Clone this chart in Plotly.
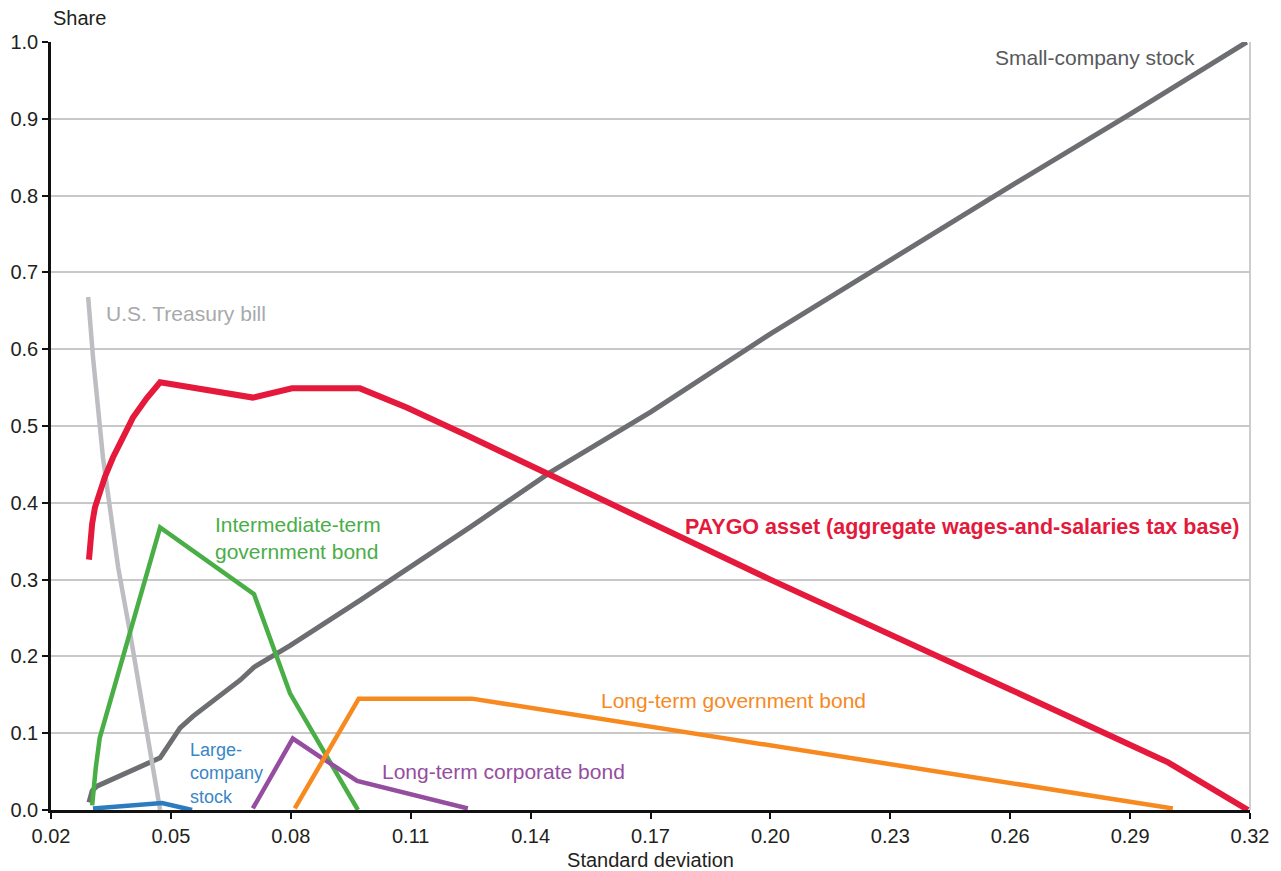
import plotly.graph_objects as go

# ---- data ----
tbill_x = [0.0293, 0.0300, 0.0305, 0.0330, 0.0368, 0.0398, 0.0473]
tbill_y = [0.668, 0.620, 0.590, 0.459, 0.316, 0.230, 0.000]

paygo_x = [0.0295, 0.02976, 0.0303, 0.0310, 0.0323, 0.03351, 0.0355, 0.03809, 0.0405, 0.04394, 0.0473,
           0.0705, 0.0803, 0.0973, 0.109, 0.124, 0.200, 0.260, 0.2995, 0.3195]
paygo_y = [0.326, 0.347, 0.373, 0.394, 0.416, 0.434, 0.459, 0.486, 0.511, 0.536, 0.557,
           0.537, 0.549, 0.549, 0.524, 0.488, 0.300, 0.157, 0.062, 0.000]

inter_x = [0.0303, 0.0312, 0.0322, 0.0473, 0.0708, 0.0798, 0.0968]
inter_y = [0.006, 0.055, 0.094, 0.368, 0.281, 0.152, 0.000]

small_x = [0.0295, 0.0303, 0.0315, 0.0473, 0.0523, 0.0555, 0.0673, 0.0708, 0.0798, 0.0973, 0.1248, 0.145, 0.170, 0.200, 0.230, 0.260, 0.290, 0.3192]
small_y = [0.010, 0.025, 0.031, 0.068, 0.107, 0.122, 0.169, 0.186, 0.214, 0.273, 0.368, 0.440, 0.518, 0.620, 0.716, 0.812, 0.906, 1.000]

large_x = [0.0305, 0.0460, 0.0478, 0.0553]
large_y = [0.002, 0.008, 0.009, 0.000]

corp_x = [0.0705, 0.0805, 0.0880, 0.0966, 0.1243]
corp_y = [0.002, 0.093, 0.067, 0.038, 0.002]

ltgov_x = [0.0810, 0.0970, 0.1253, 0.3007]
ltgov_y = [0.002, 0.145, 0.145, 0.002]

x_ticks = [0.02, 0.05, 0.08, 0.11, 0.14, 0.17, 0.20, 0.23, 0.26, 0.29, 0.32]
y_ticks = [0.0, 0.1, 0.2, 0.3, 0.4, 0.5, 0.6, 0.7, 0.8, 0.9, 1.0]

FONT = "Arial, Liberation Sans, Helvetica, sans-serif"
C_RED = "#E4193B"
C_GREEN = "#4AAE47"
C_ORANGE = "#F7891F"
C_PURPLE = "#954E9F"
C_BLUE = "#2B7BBF"
C_LGRAY = "#BDBEC1"
C_DGRAY = "#6D6E71"

fig = go.Figure()

def add(x, y, color, width):
    fig.add_trace(go.Scatter(x=x, y=y, mode="lines",
                             line=dict(color=color, width=width),
                             hoverinfo="skip", showlegend=False, cliponaxis=False))

add(small_x, small_y, C_DGRAY, 5)
add(tbill_x, tbill_y, C_LGRAY, 4.5)
add(inter_x, inter_y, C_GREEN, 4.5)
add(large_x, large_y, C_BLUE, 4.5)
add(corp_x, corp_y, C_PURPLE, 4.5)
add(ltgov_x, ltgov_y, C_ORANGE, 4.5)
add(paygo_x, paygo_y, C_RED, 6)

anns = [
    dict(text="Share", x=0.0, xref="paper", y=1.0, yref="paper", xanchor="left",
         yanchor="bottom", yshift=11, font=dict(size=20, color="#231F20")),
    dict(text="Small-company stock", x=0.3067, y=0.980, xanchor="right",
         font=dict(size=21, color="#58595B")),
    dict(text="U.S. Treasury bill", x=0.0333, y=0.647, xanchor="left",
         font=dict(size=21, color="#A7A9AC")),
    dict(text="Intermediate-term<br>government bond", x=0.0606, y=0.354,
         xanchor="left", align="left", font=dict(size=21, color=C_GREEN)),
    dict(text="<b>PAYGO asset (aggregate wages-and-salaries tax base)</b>",
         x=0.3178, y=0.368, xanchor="right", font=dict(size=21.5, color=C_RED)),
    dict(text="Long-term government bond", x=0.1570, y=0.143, xanchor="left",
         font=dict(size=21, color=C_ORANGE)),
    dict(text="Large-<br>company<br>stock", x=0.0543, y=0.048, xanchor="left",
         align="left", font=dict(size=18, color="#3A86C6")),
    dict(text="Long-term corporate bond", x=0.1023, y=0.050, xanchor="left",
         font=dict(size=21, color=C_PURPLE)),
]
for a in anns:
    a.setdefault("xref", "x")
    a.setdefault("yref", "y")
    a.setdefault("yanchor", "middle")
    a["showarrow"] = False
    fig.add_annotation(**a)

# right border
fig.add_shape(type="line", xref="paper", yref="paper", x0=1, x1=1, y0=0, y1=1,
              line=dict(color="#BDBDBD", width=1.5), layer="below")

fig.update_layout(
    width=1281, height=871,
    margin=dict(l=43, r=39, t=34, b=69, autoexpand=False),
    paper_bgcolor="white", plot_bgcolor="white",
    font=dict(family=FONT, size=20, color="#231F20"),
    showlegend=False,
    xaxis=dict(range=[0.02, 0.32], tickvals=x_ticks,
               ticktext=[f"{v:.2f}" for v in x_ticks],
               showgrid=False, zeroline=False, automargin=False,
               showline=True, linecolor="#111111", linewidth=2.5,
               ticks="outside", ticklen=6, tickwidth=1.5, tickcolor="#111111",
               tickfont=dict(size=20, color="#231F20"),
               title=dict(text="Standard deviation", font=dict(size=20, color="#231F20"),
                          standoff=8)),
    yaxis=dict(range=[0, 1.0], tickvals=y_ticks,
               ticktext=[f"{v:.1f}" for v in y_ticks],
               showgrid=True, gridcolor="#C8C8C8", gridwidth=1.5,
               zeroline=False, automargin=False,
               showline=True, linecolor="#111111", linewidth=2.5,
               ticks="outside", ticklen=6, tickwidth=1.5, tickcolor="#111111",
               tickfont=dict(size=20, color="#231F20")),
)

fig.write_html("out.html")
